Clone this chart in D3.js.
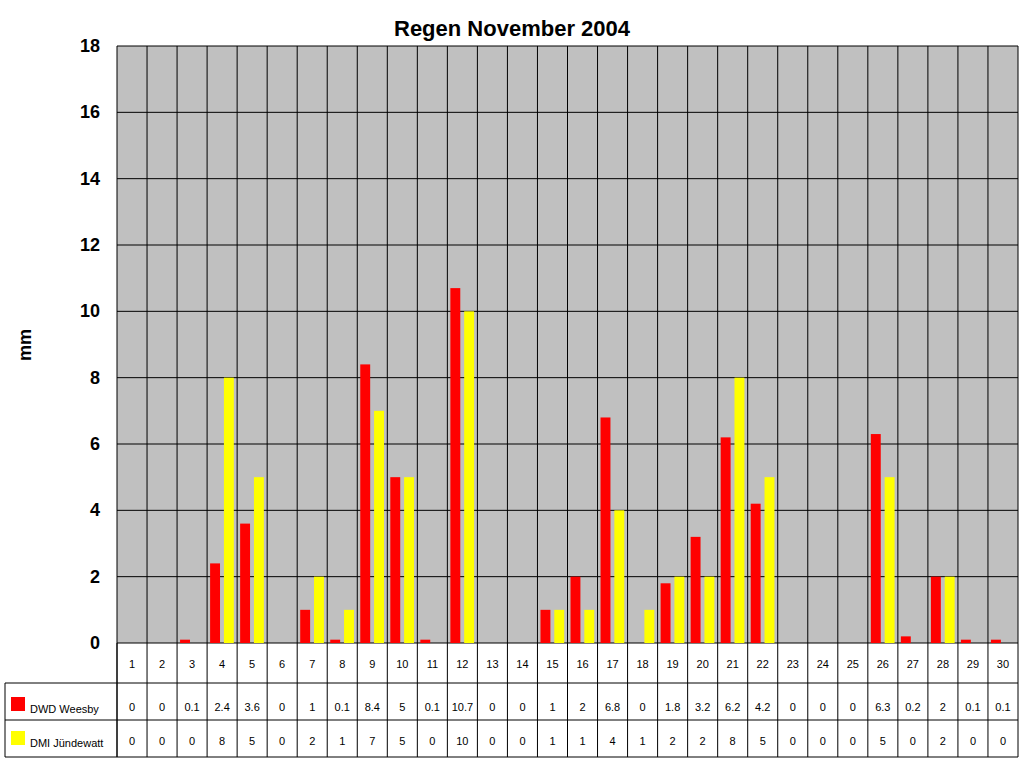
<!DOCTYPE html><html><head><meta charset="utf-8">
<script src="https://cdn.jsdelivr.net/npm/d3@7"></script>
<style>body{margin:0;background:#fff}svg{font-family:"Liberation Sans",Arial,sans-serif}</style></head><body>
<script>
const days=d3.range(1,31).map(String);
const dwd=[0,0,0.1,2.4,3.6,0,1,0.1,8.4,5,0.1,10.7,0,0,1,2,6.8,0,1.8,3.2,6.2,4.2,0,0,0,6.3,0.2,2,0.1,0.1];
const dmi=[0,0,0,8,5,0,2,1,7,5,0,10,0,0,1,1,4,1,2,2,8,5,0,0,0,5,0,2,0,0];
const yTicks=[0,2,4,6,8,10,12,14,16,18];
const seriesNames=["DWD Weesby","DMI Jündewatt"];
const colors=["#ff0000","#ffff00"];
const L=117,R=1018,T=46,B=643;
const svg=d3.select("body").append("svg").attr("width",1024).attr("height",768);
const x=d3.scaleBand().domain(days).range([L,R]);
const y=d3.scaleLinear().domain([0,18]).range([B,T]);
svg.append("rect").attr("x",L).attr("y",T).attr("width",R-L).attr("height",B-T).attr("fill","#c0c0c0");
svg.selectAll(".hg").data(yTicks).join("line").attr("x1",L).attr("x2",R).attr("y1",d=>y(d)).attr("y2",d=>y(d)).attr("stroke","#000");
svg.selectAll(".vg").data(days).join("line").attr("x1",d=>x(d)).attr("x2",d=>x(d)).attr("y1",T).attr("y2",757).attr("stroke","#000");
svg.append("line").attr("x1",R).attr("x2",R).attr("y1",T).attr("y2",757).attr("stroke","#000");
const w=x.bandwidth();
[dwd,dmi].forEach((s,i)=>{
 svg.selectAll(".b"+i).data(s).join("rect").attr("x",(d,j)=>x(days[j])+(i?0.56:0.1)*w).attr("width",0.33*w)
 .attr("y",d=>y(d)).attr("height",d=>B-y(d)).attr("fill",colors[i]);
});
svg.selectAll(".yl").data(yTicks).join("text").attr("x",100).attr("y",d=>y(d)+6).attr("text-anchor","end")
 .attr("font-size",18).attr("font-weight","bold").text(d=>d);
svg.append("text").attr("transform","translate(31,345) rotate(-90)").attr("text-anchor","middle").attr("font-size",18).attr("font-weight","bold").text("mm");
svg.append("text").attr("x",512).attr("y",36).attr("text-anchor","middle").attr("font-size",22).attr("font-weight","bold").text("Regen November 2004");
// table
[683,720,757].forEach(yy=>svg.append("line").attr("x1",yy==683?5:(yy==720?5:5)).attr("x2",R).attr("y1",yy).attr("y2",yy).attr("stroke","#000"));
svg.append("line").attr("x1",5).attr("x2",5).attr("y1",683).attr("y2",757).attr("stroke","#000");
svg.append("line").attr("x1",L).attr("x2",L).attr("y1",643).attr("y2",757).attr("stroke","#000");
svg.selectAll(".dl").data(days).join("text").attr("x",d=>x(d)+w/2).attr("y",668).attr("text-anchor","middle").attr("font-size",11).text(d=>d);
[dwd,dmi].forEach((s,i)=>{
 const yy=i?745:711;
 svg.selectAll(".t"+i).data(s).join("text").attr("x",(d,j)=>x(days[j])+w/2).attr("y",yy).attr("text-anchor","middle").attr("font-size",11).text(d=>d);
 svg.append("rect").attr("x",11).attr("y",yy-14).attr("width",14).attr("height",14).attr("fill",colors[i]);
 svg.append("text").attr("x",30).attr("y",yy+2).attr("font-size",11).text(seriesNames[i]);
});
</script></body></html>
